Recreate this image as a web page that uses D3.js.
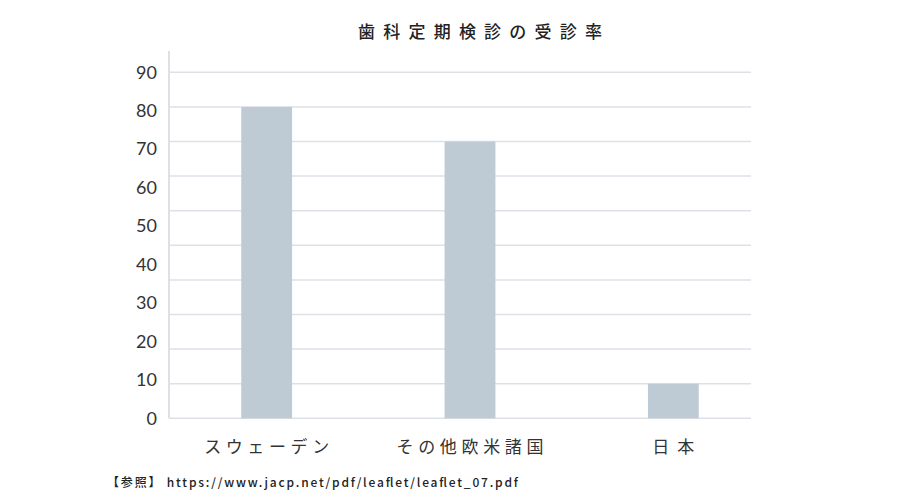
<!DOCTYPE html>
<html>
<head>
<meta charset="utf-8">
<script src="https://cdn.jsdelivr.net/npm/d3@7"></script>
<style>
  body { margin: 0; background: #fff; }
  svg text { font-family: "Noto Sans CJK JP", "Noto Sans", sans-serif; fill: #333; }
</style>
</head>
<body>
<div id="chart"></div>
<script>
// Data
const categories = ["スウェーデン", "その他欧米諸国", "日本"];
const values = [90, 80, 10];          // bar heights (bars end on the grid lines)
const gridTicks = [0, 10, 20, 30, 40, 50, 60, 70, 80, 90, 100];
const tickLabels = [0, 10, 20, 30, 40, 50, 60, 70, 80, 90];
const title = "歯科定期検診の受診率";
const source = "【参照】 https://www.jacp.net/pdf/leaflet/leaflet_07.pdf";

const svgWidth = 900;
const svgHeight = 500;
const plot = { left: 169, right: 751, top: 72.3, bottom: 418.3 };

const svg = d3.select("#chart")
  .append("svg")
  .attr("width", svgWidth)
  .attr("height", svgHeight);

// scales
const x = d3.scaleBand()
  .domain(categories)
  .range([165, 775])
  .paddingInner(0.75)
  .paddingOuter(0.375);

const y = d3.scaleLinear()
  .domain([0, 100])
  .range([plot.bottom, plot.top]);

// the printed labels 0..90 are spread over the same height
const yLabel = d3.scaleLinear()
  .domain([0, 90])
  .range([plot.bottom, plot.top]);

// grid lines
svg.append("g")
  .selectAll("line")
  .data(gridTicks)
  .join("line")
  .attr("x1", plot.left)
  .attr("x2", plot.right)
  .attr("y1", d => y(d))
  .attr("y2", d => y(d))
  .attr("stroke", "#dde1e6")
  .attr("stroke-width", 1.5);

// vertical axis line
svg.append("line")
  .attr("x1", plot.left)
  .attr("x2", plot.left)
  .attr("y1", 51)
  .attr("y2", plot.bottom)
  .attr("stroke", "#dde1e6")
  .attr("stroke-width", 2);

// y tick labels
const yAxis = svg.append("g")
  .attr("transform", `translate(${plot.left},0)`)
  .call(d3.axisLeft(yLabel).tickValues(tickLabels).tickSize(0).tickPadding(12));
yAxis.select(".domain").remove();
yAxis.selectAll("text")
  .attr("font-size", 18)
  .style("font-family", "Lato, 'Noto Sans', sans-serif")
  .attr("fill", "#333");

// bars
svg.append("g")
  .selectAll("rect")
  .data(values)
  .join("rect")
  .attr("x", (d, i) => x(categories[i]))
  .attr("y", d => y(d))
  .attr("width", x.bandwidth())
  .attr("height", d => y(0) - y(d))
  .attr("fill", "#bfcbd4");

// category labels
const catWidths = [125, 147, 42];
svg.append("g")
  .selectAll("text")
  .data(categories)
  .join("text")
  .attr("x", d => x(d) + x.bandwidth() / 2 - catWidths[categories.indexOf(d)] / 2)
  .attr("y", 453)
  .attr("font-size", 17)
  .attr("textLength", (d, i) => catWidths[i])
  .attr("lengthAdjust", "spacing")
  .text(d => d);

// title
svg.append("text")
  .attr("x", 358)
  .attr("y", 38)
  .attr("font-size", 17)
  .attr("font-weight", 500)
  .attr("textLength", 244)
  .attr("lengthAdjust", "spacing")
  .style("fill", "#222")
  .text(title);

// source note
svg.append("text")
  .attr("x", 107)
  .attr("y", 487)
  .attr("font-size", 12)
  .attr("font-weight", 500)
  .attr("textLength", 411)
  .attr("lengthAdjust", "spacing")
  .style("fill", "#222")
  .text(source);
</script>
</body>
</html>
